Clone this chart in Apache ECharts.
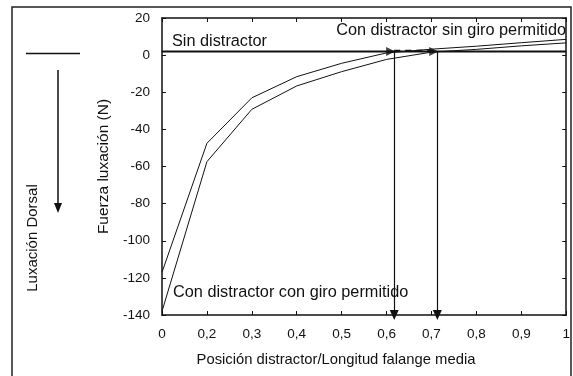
<!DOCTYPE html>
<html><head><meta charset="utf-8">
<script src="https://cdn.jsdelivr.net/npm/echarts@6/dist/echarts.min.js"></script>
<style>html,body{margin:0;padding:0;background:#fff}#c{width:573px;height:376px}</style>
</head><body><div id="c"></div>
<script>
// x positions (distractor position / middle phalanx length); axis spaces them evenly
var xTickValues = [0, 0.2, 0.3, 0.4, 0.5, 0.6, 0.7, 0.8, 0.9, 1];
var xTickLabels = ['0', '0,2', '0,3', '0,4', '0,5', '0,6', '0,7', '0,8', '0,9', '1'];
var yTicks = [-140, -120, -100, -80, -60, -40, -20, 0, 20];
var conGiro = [-138, -57.4, -29.2, -16.6, -8.9, -2.3, 1.6, 3.1, 5.0, 6.6];
var sinGiro = [-117, -47.5, -23, -11.6, -4.4, 1.2, 3.2, 4.8, 6.7, 8.5];
var sinDistractor = [2, 2, 2, 2, 2, 2, 2, 2, 2, 2];
var crossPos = [0.617, 0.713];
var crossLevel = 2;

function toIdx(v) {
  for (var i = 0; i < xTickValues.length - 1; i++) {
    var a = xTickValues[i], b = xTickValues[i + 1];
    if (v >= a && v <= b) return i + (v - a) / (b - a);
  }
  return xTickValues.length - 1;
}
function pts(arr) { return arr.map(function (y, i) { return [toIdx(xTickValues[i]), y]; }); }

var font = 'Liberation Sans, Arial, sans-serif';
var chart = echarts.init(document.getElementById('c'));
var lineStyle = { color: '#111', width: 1 };
var axisCommon = {
  min: 0, max: xTickValues.length - 1, interval: 1, type: 'value',
  axisLine: { show: true, onZero: false, lineStyle: { color: '#111', width: 1.5 } },
  axisTick: { show: true, inside: true, length: 4, lineStyle: { color: '#111' } },
  splitLine: { show: false }
};
var yCommon = {
  type: 'value', min: yTicks[0], max: yTicks[yTicks.length - 1], interval: 20,
  axisLine: { show: true, onZero: false, lineStyle: { color: '#111', width: 1.5 } },
  axisTick: { show: true, inside: true, length: 4, lineStyle: { color: '#111' } },
  splitLine: { show: false }
};
var markLines = crossPos.map(function (p) {
  var x = toIdx(p);
  return [{ coord: [x, crossLevel] }, { coord: [x, yTicks[0]] }];
});
chart.setOption({
  animation: false,
  grid: { left: 162, top: 18, right: 4, bottom: 61 },
  xAxis: [
    Object.assign({}, axisCommon, { position: 'bottom',
      axisLabel: { margin: 12, color: '#111', fontSize: 13.5, fontFamily: font,
        formatter: function (v) { return xTickLabels[Math.round(v)]; } } }),
    Object.assign({}, axisCommon, { position: 'top', axisLabel: { show: false } })
  ],
  yAxis: [
    Object.assign({}, yCommon, { position: 'left',
      name: 'Fuerza luxación (N)', nameLocation: 'middle', nameGap: 50, nameRotate: 90,
      nameTextStyle: { color: '#111', fontSize: 15.5, fontFamily: font },
      axisLabel: { margin: 12, color: '#111', fontSize: 13.5, fontFamily: font } }),
    Object.assign({}, yCommon, { position: 'right', axisLabel: { show: false } })
  ],
  series: [
    { name: 'Sin distractor', type: 'line', data: pts(sinDistractor), symbol: 'none',
      lineStyle: { color: '#111', width: 2 }, z: 3 },
    { name: 'Con distractor sin giro permitido', type: 'line', data: pts(sinGiro), symbol: 'none',
      lineStyle: lineStyle },
    { name: 'Con distractor con giro permitido', type: 'line', data: pts(conGiro), symbol: 'none',
      lineStyle: lineStyle,
      markLine: { silent: true, symbol: ['none', 'triangle'], symbolSize: [9, 10],
        label: { show: false }, lineStyle: { color: '#111', width: 1.2, type: 'solid' },
        data: markLines } },
    { type: 'scatter', symbol: 'triangle', symbolRotate: -90, symbolSize: 9,
      itemStyle: { color: '#111' }, z: 5,
      data: crossPos.map(function (p) { return [toIdx(p) - 0.08, crossLevel]; }) },
    { type: 'line', symbol: 'none', lineStyle: { color: '#111', width: 2, type: [6, 5] },
      data: [[toIdx(crossPos[0]), crossLevel + 0.4], [toIdx(crossPos[1]), crossLevel + 0.4]] }
  ],
  graphic: [
    { type: 'rect', shape: { x: 12, y: 7, width: 559, height: 380 }, silent: true,
      style: { fill: 'none', stroke: '#222', lineWidth: 1.5 } },
    { type: 'line', shape: { x1: 26, y1: 53.5, x2: 80, y2: 53.5 }, style: { stroke: '#111', lineWidth: 1.5 } },
    { type: 'line', shape: { x1: 58, y1: 70, x2: 58, y2: 205 }, style: { stroke: '#111', lineWidth: 1.5 } },
    { type: 'polygon', shape: { points: [[54, 203], [62, 203], [58, 213]] }, style: { fill: '#111' } },
    { type: 'text', x: 33, y: 238, rotation: Math.PI / 2,
      style: { text: 'Luxación Dorsal', font: '15px ' + font, fill: '#111', align: 'center', verticalAlign: 'middle' } },
    { type: 'text', x: 336, y: 360,
      style: { text: 'Posición distractor/Longitud falange media', font: '14.8px ' + font, fill: '#111', align: 'center', verticalAlign: 'middle' } },
    { type: 'text', x: 172, y: 42,
      style: { text: 'Sin distractor', font: '16.3px ' + font, fill: '#111', align: 'left', verticalAlign: 'middle' } },
    { type: 'text', x: 566, y: 31,
      style: { text: 'Con distractor sin giro permitido', font: '16.3px ' + font, fill: '#111', align: 'right', verticalAlign: 'middle' } },
    { type: 'text', x: 173, y: 293,
      style: { text: 'Con distractor con giro permitido', font: '16.3px ' + font, fill: '#111', align: 'left', verticalAlign: 'middle' } }
  ]
});
</script></body></html>
